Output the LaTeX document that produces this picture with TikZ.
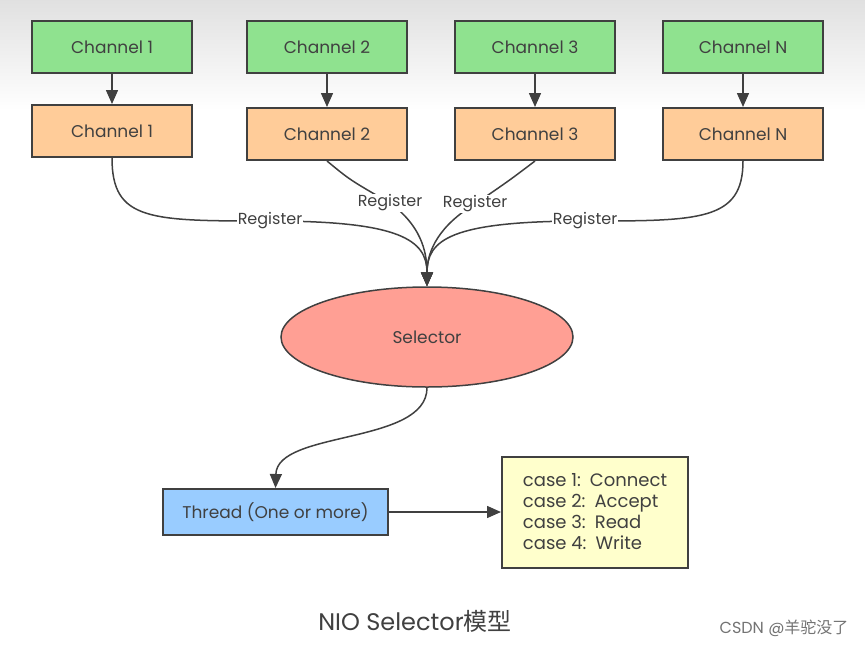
\documentclass[tikz,border=0pt]{standalone}
\usepackage{fontspec}
\setmainfont{Poppins}
\newfontfamily\cjk{Noto Sans CJK SC}
\usetikzlibrary{shapes}
\usetikzlibrary{arrows.meta}
\definecolor{grn}{HTML}{8FE28F}
\definecolor{org}{HTML}{FFCC99}
\definecolor{sal}{HTML}{FF9F94}
\definecolor{blu}{HTML}{99CCFF}
\definecolor{ylw}{HTML}{FFFFCC}
\definecolor{ink}{HTML}{404040}
\tikzset{box/.style={rectangle, draw=ink, line width=2pt, minimum width=160pt, minimum height=52pt, text=ink, font=\fontsize{17}{20}\selectfont}}
\tikzset{grnbox/.style={box, fill=grn}, orgbox/.style={box, fill=org}}
\tikzset{reg/.style={draw=ink, line width=1.5pt, -{Triangle[length=14pt,width=12pt]}}}
\tikzset{lbl/.style={fill=white, inner sep=1pt, text=ink, font=\fontsize{16}{18}\selectfont}}

\begin{document}
\begin{tikzpicture}[x=1pt,y=-1pt]
  \useasboundingbox (0,0) rectangle (865,646);
  \fill[top color=black!12, bottom color=white] (0,0) rectangle (865,110);
  \foreach \x/\gy/\oy/\n/\lab in {
    112/47/131/1/1,
    327/47/134/2/2,
    535/47/134/3/3,
    743/47/134/4/N%
  } {
    \node[grnbox] (g\n) at (\x, \gy) {Channel \lab};
    \node[orgbox] (o\n) at (\x, \oy) {Channel \lab};
    \draw[reg] (g\n) -- (o\n);
  }
  \node[ellipse, draw=ink, fill=sal, line width=1.5pt, minimum width=292pt, minimum height=100pt,
    text=ink, font=\fontsize{17}{20}\selectfont] (sel) at (427,337) {Selector};
  % register paths
  \draw[reg] (o1.south) .. controls (112,221) and (150,221) .. (270,221) node[lbl] {Register}
    .. controls (400,221) and (427,240) .. (sel.north);
  \draw[reg] (o2.south) .. controls (350,180) .. (390,203) node[lbl] {Register}
    .. controls (420,225) and (427,250) .. (sel.north);
  \draw[reg] (o3.south) .. controls (510,180) .. (475,204) node[lbl] {Register}
    .. controls (440,225) and (427,250) .. (sel.north);
  \draw[reg] (o4.south) .. controls (743,221) and (700,221) .. (585,221) node[lbl] {Register}
    .. controls (450,221) and (427,240) .. (sel.north);
  \node[box, fill=blu, minimum width=225pt, minimum height=46pt] (thr) at (275.5,512) {Thread (One or more)};
  \node[box, fill=ylw, minimum width=186pt, minimum height=111pt, align=left,
    font=\fontsize{18}{21}\selectfont] (cases) at (595,512)
    {case 1:\enspace Connect\\case 2:\enspace Accept\\case 3:\enspace Read\\case 4:\enspace Write};
  \draw[reg] (sel.south) .. controls (427,445) and (277,430) .. (thr.north);
  \draw[reg] (thr) -- (cases);
  \node[text=ink, font=\fontsize{24}{28}\selectfont] (title) at (415,621) {NIO Selector{\cjk 模型}};
  \node[text=black!55, anchor=east, font=\fontsize{16}{18}\selectfont] (mark) at (852,628) {CSDN @{\cjk 羊驼没了}};
\end{tikzpicture}
\end{document}
